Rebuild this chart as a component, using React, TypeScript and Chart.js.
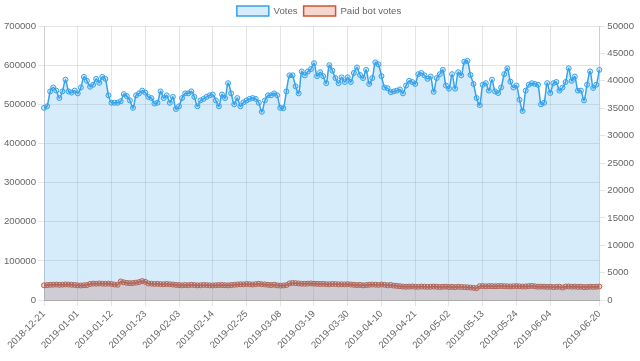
import React, { useEffect, useRef } from "react";
import { Chart, registerables } from "chart.js";

Chart.register(...registerables);

const START_DATE = "2018-12-21";
const DAY_COUNT = 182;

function buildDates(start: string, n: number): string[] {
  const out: string[] = [];
  const d = new Date(start + "T00:00:00Z");
  for (let i = 0; i < n; i++) {
    out.push(d.toISOString().slice(0, 10));
    d.setUTCDate(d.getUTCDate() + 1);
  }
  return out;
}

const dates = buildDates(START_DATE, DAY_COUNT);

const votes = [
  491000, 495000, 533000, 543000, 535000, 516000, 533000, 563000, 533000, 530000,
  535000, 528000, 543000, 570000, 560000, 545000, 550000, 565000, 555000, 570000,
  565000, 523000, 504000, 504000, 504000, 508000, 526000, 521000, 510000, 491000,
  523000, 528000, 535000, 530000, 519000, 516000, 502000, 504000, 533000, 516000,
  523000, 504000, 519000, 488000, 495000, 516000, 528000, 528000, 533000, 519000,
  495000, 510000, 514000, 519000, 523000, 525000, 510000, 495000,
  525000, 516000, 554000, 528000, 500000, 516000, 495000, 505000, 510000, 514000,
  516000, 514000, 504000, 481000, 510000, 523000, 523000, 528000, 523000, 491000,
  490000, 533000, 574000, 574000, 546000, 528000, 584000, 574000, 584000, 590000,
  605000, 572000, 582000, 572000, 554000, 600000, 586000, 567000, 554000, 569000,
  557000, 569000, 557000, 580000, 594000, 575000, 567000, 588000, 552000, 567000,
  607000, 602000, 572000, 543000, 541000, 531000, 533000, 535000, 538000, 528000,
  548000,
  560000, 557000, 552000, 577000, 580000, 574000, 565000, 571000, 532000, 567000,
  577000, 588000, 548000, 540000, 577000, 540000, 582000, 574000, 609000, 611000,
  575000, 552000, 516000, 498000, 550000, 554000, 535000, 563000, 533000, 529000,
  543000, 577000, 592000, 558000, 543000, 548000, 512000, 483000, 535000, 550000,
  554000, 552000, 550000, 500000, 504000, 554000, 529000, 554000, 557000, 535000,
  543000, 557000, 592000, 560000, 571000, 535000, 535000, 510000, 550000, 584000,
  542000, 550000, 588000,
];

const paidBotVotes = [
  2700, 2750, 2800, 2820, 2850, 2800, 2830, 2870, 2850, 2800, 2780,
  2700, 2680, 2720, 2750,
  2950, 3020, 3000, 3050, 3000, 2980, 3020, 2950,
  2850, 2800,
  3400,
  3250, 3150, 3100, 3120, 3200, 3300,
  3480, 3350,
  3050, 3000, 2950, 2980, 2920, 2900, 2950, 2900, 2850,
  2780, 2750, 2700, 2760, 2720, 2800, 2750, 2700, 2720, 2780,
  2750, 2700, 2680, 2720, 2750, 2760, 2720, 2700, 2750, 2800,
  2850, 2900, 2880, 2950, 2900, 2850, 2920, 2980, 2900, 2870,
  2800, 2750, 2820, 2700, 2650, 2680, 2750,
  3050, 3150, 3100, 3050, 3000, 2980, 3020, 3050, 3000, 2980,
  2950, 2970, 2920, 2900, 2950, 2930, 2880, 2900, 2870, 2920, 2850,
  2800, 2750, 2780, 2700, 2750, 2800, 2850, 2820, 2780,
  2850, 2800, 2700, 2780, 2650, 2600, 2550,
  2480, 2450, 2470, 2500, 2450, 2430, 2480, 2460, 2420, 2450, 2480, 2450, 2400, 2430, 2460,
  2400, 2420, 2380, 2450, 2400, 2380, 2350, 2300, 2250, 2180,
  2550, 2580, 2520, 2560, 2550, 2530, 2560, 2580, 2550, 2520, 2500, 2540, 2560, 2520, 2480, 2500,
  2550, 2600, 2520, 2450, 2480, 2460, 2420, 2450, 2380, 2420, 2450,
  2300, 2480, 2500, 2450, 2470, 2420, 2450, 2380, 2400, 2450, 2420, 2450, 2480,
];

const LABEL_STEP = 11;
const FONT = "'Liberation Sans', Arial, Helvetica, sans-serif";

function showTick(i: number, n: number): boolean {
  return i === n - 1 || (i % LABEL_STEP === 0 && i + LABEL_STEP < n);
}

export default function App() {
  const ref = useRef<HTMLCanvasElement | null>(null);

  useEffect(() => {
    if (!ref.current) return;
    const n = dates.length;
    const chart = new Chart(ref.current, {
      type: "line",
      data: {
        labels: dates,
        datasets: [
          {
            label: "Votes",
            data: votes,
            yAxisID: "y",
            borderColor: "rgb(54,162,235)",
            backgroundColor: "rgba(54,162,235,0.2)",
            pointBackgroundColor: "rgba(54,162,235,0.2)",
            pointBorderColor: "rgb(54,162,235)",
            borderWidth: 1.5,
            pointRadius: 2.5,
            pointBorderWidth: 1,
            tension: 0.3,
            fill: "origin",
          },
          {
            label: "Paid bot votes",
            data: paidBotVotes,
            yAxisID: "y1",
            borderColor: "rgb(206,86,52)",
            backgroundColor: "rgba(214,96,61,0.25)",
            pointBackgroundColor: "rgba(214,96,61,0.25)",
            pointBorderColor: "rgb(206,86,52)",
            borderWidth: 1.5,
            pointRadius: 2.5,
            pointBorderWidth: 1,
            tension: 0.3,
            fill: "origin",
          },
        ],
      },
      options: {
        responsive: false,
        animation: false,
        layout: { padding: { left: 2, right: 4, top: 0, bottom: 8 } },
        plugins: {
          legend: {
            position: "top",
            labels: {
              boxWidth: 32,
              boxHeight: 10,
              padding: 6,
              color: "#666",
              font: { family: FONT, size: 9.6 },
            },
          },
          tooltip: { enabled: false },
        },
        scales: {
          x: {
            ticks: {
              autoSkip: false,
              maxRotation: 45,
              minRotation: 45,
              color: "#666",
              font: { family: FONT, size: 9.6 },
              padding: 2,
              callback: (_v: any, i: number) => (showTick(i, n) ? dates[i] : ""),
            },
            grid: {
              color: (c: any) => (showTick(c.index, n) ? "rgba(0,0,0,0.1)" : "rgba(0,0,0,0)"),
              tickLength: 6,
            },
            border: { color: "rgba(0,0,0,0.25)" },
          },
          y: {
            position: "left",
            min: 0,
            max: 700000,
            ticks: {
              stepSize: 100000,
              color: "#666",
              font: { family: FONT, size: 9.6 },
              padding: 2,
              callback: (v: any) => String(v),
            },
            grid: { color: "rgba(0,0,0,0.1)", tickLength: 6 },
          },
          y1: {
            position: "right",
            min: 0,
            max: 50000,
            ticks: {
              stepSize: 5000,
              color: "#666",
              font: { family: FONT, size: 9.6 },
              padding: 2,
              callback: (v: any) => String(v),
            },
            grid: { drawOnChartArea: false, color: "rgba(0,0,0,0.1)", tickLength: 6 },
          },
        },
      },
    });
    return () => chart.destroy();
  }, []);

  return (
    <div style={{ position: "fixed", left: 0, top: 0, width: 640, height: 361, background: "#fff" }}>
      <canvas ref={ref} width={640} height={361} />
    </div>
  );
}
